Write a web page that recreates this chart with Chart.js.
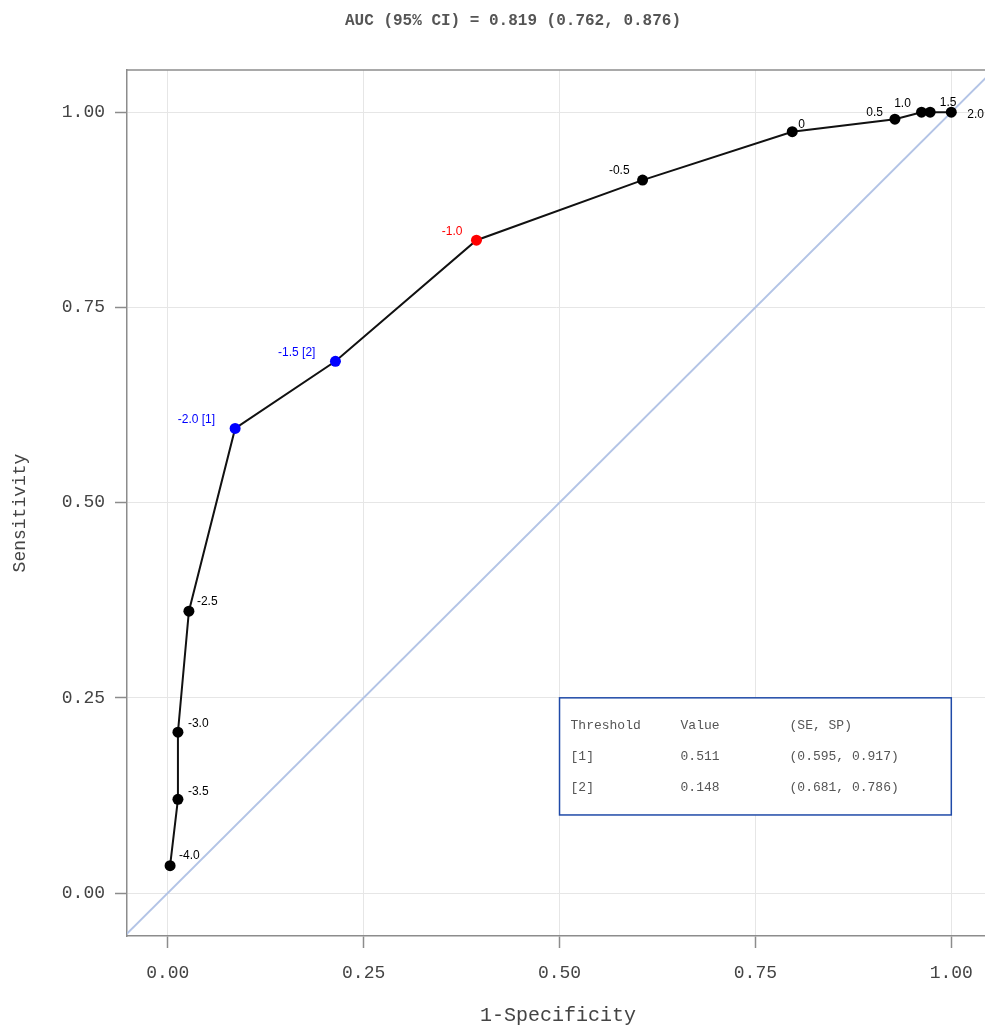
<!DOCTYPE html>
<html>
<head>
<meta charset="utf-8">
<script src="https://cdn.jsdelivr.net/npm/chart.js@4/dist/chart.umd.min.js"></script>
<style>
  html, body { margin: 0; padding: 0; background: #ffffff; }
  #wrap { width: 985px; height: 1028px; position: relative; }
</style>
</head>
<body>
<div id="wrap"><canvas id="c" width="985" height="1028"></canvas></div>
<script>
// ---------- data ----------
const thresholdLabels = ['-4.0', '-3.5', '-3.0', '-2.5', '-2.0 [1]', '-1.5 [2]', '-1.0', '-0.5', '0', '0.5', '1.0', '1.5', '2.0'];
const fpr = [0.003, 0.013, 0.013, 0.027, 0.086, 0.214, 0.394, 0.606, 0.797, 0.928, 0.962, 0.973, 1.000];
const tpr = [0.035, 0.120, 0.206, 0.361, 0.595, 0.681, 0.836, 0.913, 0.975, 0.991, 1.000, 1.000, 1.000];
const diagonal = [-0.1, 1.1];
const xTicks = [0, 0.25, 0.5, 0.75, 1.0];
const yTicks = [0, 0.25, 0.5, 0.75, 1.0];
const titleText = 'AUC (95% CI) = 0.819 (0.762, 0.876)';
const xTitle = '1-Specificity';
const yTitle = 'Sensitivity';
const tableHeader = ['Threshold', 'Value', '(SE, SP)'];
const tableRows = [
  ['[1]', '0.511', '(0.595, 0.917)'],
  ['[2]', '0.148', '(0.681, 0.786)']
];

// ---------- styles ----------
const pointColors = thresholdLabels.map((l, i) => i === 4 || i === 5 ? '#0000ff' : (i === 6 ? '#ff0000' : '#000000'));
// label placement relative to point: [dx, dy, align]
const labelPlacement = [
  [9, -10, 'left'], [10, -8, 'left'], [10, -9, 'left'], [8, -9, 'left'],
  [-20, -9, 'right'], [-20, -9, 'right'], [-14, -9, 'right'], [-13, -9, 'right'],
  [6, -7, 'left'], [-12, -7, 'right'], [-19, -8, 'center'], [18, -9, 'center'], [16, 3, 'left']
];
const tableBox = { x0: 0.5, x1: 1.0, y0: 0.25, y1: 0.10 };
const MONO = '"Liberation Mono", "DejaVu Sans Mono", monospace';

const diagData = diagonal.map(v => ({ x: v, y: v }));
const rocData = fpr.map((x, i) => ({ x: x, y: tpr[i] }));

const labelPlugin = {
  id: 'pointLabels',
  afterDatasetsDraw(chart) {
    const ctx = chart.ctx;
    const meta = chart.getDatasetMeta(1);
    ctx.save();
    ctx.font = '12px "Liberation Sans", Arial, sans-serif';
    ctx.textBaseline = 'middle';
    meta.data.forEach((pt, i) => {
      const p = labelPlacement[i];
      ctx.fillStyle = pointColors[i];
      ctx.textAlign = p[2];
      ctx.fillText(thresholdLabels[i], pt.x + p[0], pt.y + p[1]);
    });
    ctx.restore();
  }
};

const framePlugin = {
  id: 'frameAndTable',
  afterDraw(chart) {
    const ctx = chart.ctx;
    const a = chart.chartArea;
    const xs = chart.scales.x, ys = chart.scales.y;
    ctx.save();
    // top border
    ctx.strokeStyle = '#8c8c8c';
    ctx.lineWidth = 1.5;
    ctx.beginPath();
    ctx.moveTo(a.left, a.top);
    ctx.lineTo(a.right, a.top);
    ctx.stroke();
    // titles
    ctx.fillStyle = '#555555';
    ctx.textAlign = 'center';
    ctx.textBaseline = 'middle';
    ctx.font = 'bold 16px ' + MONO;
    ctx.fillText(titleText, 513, 21);
    ctx.fillStyle = '#444444';
    ctx.font = '20px ' + MONO;
    ctx.fillText(xTitle, (a.left + a.right) / 2 + 2, 1016);
    ctx.save();
    ctx.translate(20, 513);
    ctx.rotate(-Math.PI / 2);
    ctx.font = '18px ' + MONO;
    ctx.fillText(yTitle, 0, 0);
    ctx.restore();
    // table box
    const L = xs.getPixelForValue(tableBox.x0), R = xs.getPixelForValue(tableBox.x1);
    const T = ys.getPixelForValue(tableBox.y0), B = ys.getPixelForValue(tableBox.y1);
    ctx.fillStyle = '#ffffff';
    ctx.fillRect(L, T, R - L, B - T);
    ctx.strokeStyle = '#1f4aa8';
    ctx.lineWidth = 1.5;
    ctx.strokeRect(L, T, R - L, B - T);
    ctx.font = '13px ' + MONO;
    ctx.fillStyle = '#555555';
    ctx.textAlign = 'left';
    ctx.textBaseline = 'middle';
    const cols = [11, 121, 230];
    const rowsY = [28, 59, 90];
    [tableHeader].concat(tableRows).forEach((row, r) => {
      row.forEach((txt, c) => ctx.fillText(txt, L + cols[c], T + rowsY[r]));
    });
    ctx.restore();
  }
};

new Chart(document.getElementById('c'), {
  type: 'scatter',
  data: {
    datasets: [
      {
        data: diagData,
        showLine: true,
        borderColor: '#b3c4e6',
        borderWidth: 2,
        pointRadius: 0,
        order: 2
      },
      {
        data: rocData,
        showLine: true,
        borderColor: '#111111',
        borderWidth: 2,
        pointRadius: 5.5,
        pointHoverRadius: 5.5,
        pointBackgroundColor: pointColors,
        pointBorderColor: pointColors,
        pointBorderWidth: 0,
        order: 1
      }
    ]
  },
  options: {
    responsive: false,
    animation: false,
    devicePixelRatio: 1,
    layout: { autoPadding: false, padding: { top: 70, right: 0, bottom: 0, left: 0 } },
    plugins: {
      legend: { display: false },
      tooltip: { enabled: false },
      title: { display: false }
    },
    scales: {
      x: {
        type: 'linear',
        min: -0.052,
        max: 1.043,
        afterFit(s) { s.height = 92; s.paddingLeft = 0; s.paddingRight = 0; },
        afterBuildTicks(s) { s.ticks = xTicks.map(v => ({ value: v })); },
        border: { color: '#8c8c8c', width: 1.5 },
        grid: { color: '#e6e6e6', lineWidth: 1, tickLength: 12, tickColor: '#8c8c8c', tickWidth: 1.5 },
        ticks: {
          color: '#444444',
          padding: 14,
          font: { family: MONO, size: 18 },
          callback: v => v.toFixed(2)
        }
      },
      y: {
        type: 'linear',
        min: -0.055,
        max: 1.054,
        afterFit(s) { s.width = 127; s.paddingTop = 0; s.paddingBottom = 0; },
        afterBuildTicks(s) { s.ticks = yTicks.map(v => ({ value: v })); },
        border: { color: '#8c8c8c', width: 1.5 },
        grid: { color: '#e6e6e6', lineWidth: 1, tickLength: 12, tickColor: '#8c8c8c', tickWidth: 1.5 },
        ticks: {
          color: '#444444',
          padding: 10,
          font: { family: MONO, size: 18 },
          callback: v => v.toFixed(2)
        }
      }
    }
  },
  plugins: [labelPlugin, framePlugin]
});
</script>
</body>
</html>
